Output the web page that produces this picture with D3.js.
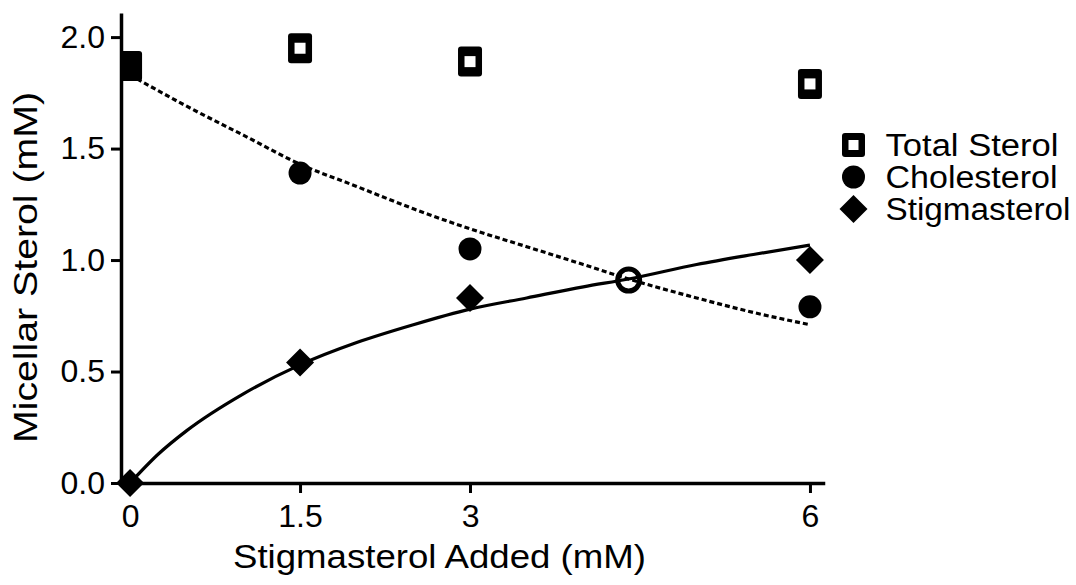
<html>
<head>
	<title>Micellar Sterol</title>
	<script src="https://d3js.org/d3.v7.min.js"></script>
	<style type="text/css">
		body {
			margin: 0;
			background: #fff;
		}
		text {
			font-family: "Liberation Sans", Arial, sans-serif;
			fill: #000;
		}
		.tick text {
			font-size: 32px;
		}
	</style>
</head>
<body>

<div id="chart"></div>

<script type="text/javascript">
// values
var added = [0, 1.5, 3, 6];
var totalSterol = [1.87, 1.95, 1.89, 1.79];
var cholesterol = [1.87, 1.39, 1.05, 0.79];
var stigmasterol = [0, 0.54, 0.83, 1.00];

// fitted curves, sampled by eye
var cholFitX = [0, 0.5, 1, 1.5, 2, 2.5, 3, 3.5, 4, 4.4, 5, 5.5, 6];
var cholFitY = [1.83, 1.69, 1.56, 1.43, 1.33, 1.23, 1.14, 1.06, 0.98, 0.915, 0.83, 0.765, 0.71];
var stigFitX = [0, 0.25, 0.5, 1, 1.5, 2, 2.5, 3, 3.5, 4, 4.4, 5, 5.5, 6];
var stigFitY = [0, 0.13, 0.235, 0.40, 0.53, 0.63, 0.71, 0.78, 0.83, 0.88, 0.915, 0.98, 1.025, 1.067];

var crossX = [4.4];
var crossY = [0.91];

var xTicks = [0, 1.5, 3, 6];
var yTicks = [0, 0.5, 1, 1.5, 2];
var legendNames = ["Total Sterol", "Cholesterol", "Stigmasterol"];
var legendWidths = [173, 172, 185];

var width = 1076, height = 585;

var svg = d3.select("#chart")
	.append("svg")
	.attr("width", width)
	.attr("height", height);

var x = d3.scaleLinear().domain([-0.08, 6.115]).range([121, 823]);
var y = d3.scaleLinear().domain([0, 2.1]).range([483, 14.8]);

svg.append("defs").append("clipPath")
	.attr("id", "plot")
	.append("rect")
	.attr("x", 121.5).attr("y", 0)
	.attr("width", 720).attr("height", 500);

// axes
var xAxis = svg.append("g")
	.attr("transform", "translate(0,483)")
	.call(d3.axisBottom(x).tickValues(xTicks).tickFormat(d3.format("")).tickSize(10).tickSizeOuter(0).tickPadding(11));
var yAxis = svg.append("g")
	.attr("transform", "translate(121,0)")
	.call(d3.axisLeft(y).tickValues(yTicks).tickFormat(d3.format(".1f")).tickSize(10).tickSizeOuter(0).tickPadding(6));

[xAxis, yAxis].forEach(function(a) {
	a.attr("font-family", null).attr("font-size", null);
	a.select(".domain").attr("stroke-width", 3.5).attr("stroke-linecap", "square");
	a.selectAll(".tick line").attr("stroke-width", 3);
	a.selectAll(".tick text").attr("font-size", 32);
});

svg.append("text")
	.attr("x", 439.5).attr("y", 568)
	.attr("text-anchor", "middle")
	.attr("textLength", 413)
	.attr("lengthAdjust", "spacingAndGlyphs")
	.style("font-size", "33px")
	.text("Stigmasterol Added (mM)");

svg.append("text")
	.attr("transform", "translate(37,267.5) rotate(-90)")
	.attr("text-anchor", "middle")
	.attr("textLength", 351)
	.attr("lengthAdjust", "spacingAndGlyphs")
	.style("font-size", "33px")
	.text("Micellar Sterol (mM)");

// fit lines
var line = d3.line()
	.x(function(d) { return x(d[0]); })
	.y(function(d) { return y(d[1]); })
	.curve(d3.curveMonotoneX);

var plot = svg.append("g").attr("clip-path", "url(#plot)");

plot.append("path")
	.datum(d3.zip(cholFitX, cholFitY))
	.attr("d", line)
	.attr("fill", "none")
	.attr("stroke", "#000")
	.attr("stroke-width", 3.2)
	.attr("stroke-dasharray", "5,3");

plot.append("path")
	.datum(d3.zip(stigFitX, stigFitY))
	.attr("d", line)
	.attr("fill", "none")
	.attr("stroke", "#000")
	.attr("stroke-width", 3.2);

// markers
function squareMark(g, w, h, inner) {
	g.append("rect")
		.attr("x", -w / 2).attr("y", -h / 2)
		.attr("width", w).attr("height", h)
		.attr("rx", 3)
		.attr("fill", "#000");
	g.append("rect")
		.attr("x", -inner / 2).attr("y", -inner / 2)
		.attr("width", inner).attr("height", inner)
		.attr("fill", "#fff");
}
function circleMark(g) {
	g.append("circle").attr("r", 11.5).attr("fill", "#000");
}
function diamondMark(g) {
	g.append("path").attr("d", "M0,-14L14,0L0,14L-14,0Z").attr("fill", "#000");
}

plot.selectAll(".total")
	.data(d3.zip(added, totalSterol))
	.enter().append("g")
	.attr("class", "total")
	.attr("transform", function(d) { return "translate(" + x(d[0]) + "," + y(d[1]) + ")"; })
	.each(function() { squareMark(d3.select(this), 24, 30, 11); });

plot.selectAll(".chol")
	.data(d3.zip(added, cholesterol))
	.enter().append("g")
	.attr("class", "chol")
	.attr("transform", function(d) { return "translate(" + x(d[0]) + "," + y(d[1]) + ")"; })
	.each(function() { circleMark(d3.select(this)); });

svg.selectAll(".stig")
	.data(d3.zip(added, stigmasterol))
	.enter().append("g")
	.attr("class", "stig")
	.attr("transform", function(d) { return "translate(" + x(d[0]) + "," + y(d[1]) + ")"; })
	.each(function() { diamondMark(d3.select(this)); });

svg.selectAll(".cross")
	.data(d3.zip(crossX, crossY))
	.enter().append("circle")
	.attr("class", "cross")
	.attr("cx", function(d) { return x(d[0]); })
	.attr("cy", function(d) { return y(d[1]); })
	.attr("r", 11)
	.attr("fill", "none")
	.attr("stroke", "#000")
	.attr("stroke-width", 5);

// legend
var legend = svg.selectAll(".legend")
	.data(legendNames)
	.enter().append("g")
	.attr("class", "legend")
	.attr("transform", function(d, i) { return "translate(853.5," + (145 + i * 32) + ")"; });

legend.each(function(d, i) {
	var g = d3.select(this);
	if (i == 0) squareMark(g, 23, 24, 10);
	if (i == 1) circleMark(g);
	if (i == 2) diamondMark(g);
	g.append("text")
		.attr("x", 32)
		.attr("y", 11)
		.attr("textLength", legendWidths[i])
		.attr("lengthAdjust", "spacingAndGlyphs")
		.style("font-size", "31px")
		.text(d);
});
</script>

</body>
</html>
